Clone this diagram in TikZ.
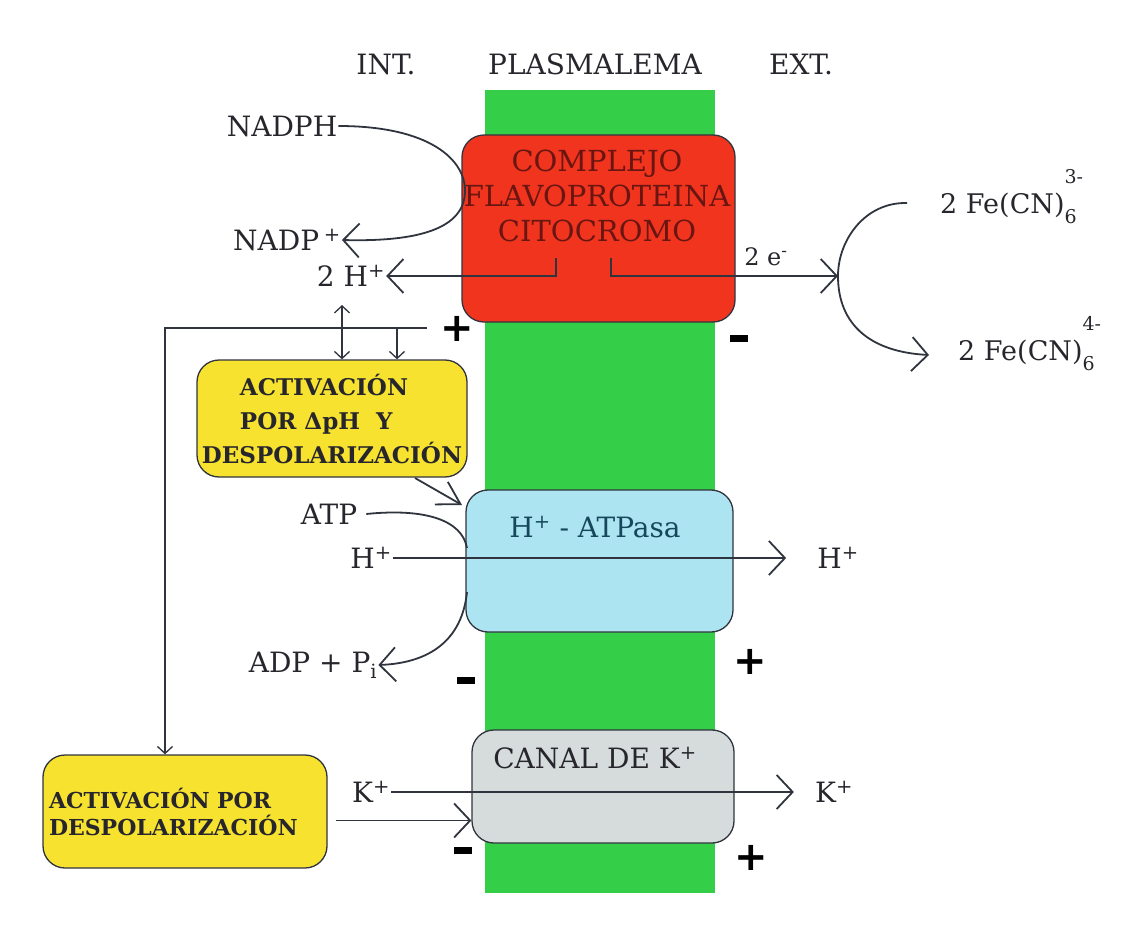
\documentclass[tikz,border=0pt]{standalone}
\usepackage{fontspec}
\setmainfont{DejaVu Serif}
\newfontfamily\signfont{DejaVu Sans}
\usetikzlibrary{arrows.meta,calc}

\definecolor{memgreen}{RGB}{52,206,72}
\definecolor{redbox}{RGB}{240,52,30}
\definecolor{redink}{RGB}{105,22,18}
\definecolor{bluebox}{RGB}{172,228,242}
\definecolor{blueink}{RGB}{22,72,92}
\definecolor{greybox}{RGB}{214,219,219}
\definecolor{yelbox}{RGB}{248,226,48}
\definecolor{inkc}{RGB}{38,38,44}
\definecolor{linec}{RGB}{48,52,62}

% charge of a complex ion: superscript over subscript
\newcommand{\ionic}[2]{\rlap{\raisebox{30pt}{\fontsize{19}{19}\selectfont #1}}\raisebox{-10pt}{\fontsize{19}{19}\selectfont #2}}

\begin{document}
\begin{tikzpicture}[x=1pt, y=-1pt,
    >={Straight Barb[length=16pt,width=34pt]},
    smalltip/.tip={Straight Barb[length=7pt,width=15pt]},
    slimtip/.tip={Straight Barb[length=22pt,width=26pt]},
    lbl/.style={font=\fontsize{28}{32}\selectfont, inner sep=1pt, text=inkc},
    head/.style={font=\fontsize{28}{32}\selectfont, inner sep=1pt, text=inkc},
    box/.style={draw=linec, line width=1.3pt, rounded corners=22pt, inner sep=4pt},
    actbox/.style={box, fill=yelbox, text=inkc},
    conn/.style={draw=linec, line width=1.8pt},
    thinconn/.style={draw=linec, line width=1.3pt},
    plussign/.style={font=\signfont\bfseries\fontsize{40}{40}\selectfont, inner sep=0pt, text=black},
    minussign/.style={fill=black, minimum width=18pt, minimum height=7pt, inner sep=0pt}]
    \useasboundingbox (0,0) rectangle (1130,931);

    % headings
    \node[head] (int) at (386,64) {INT.};
    \node[head] (plasma) at (595,64) {PLASMALEMA};
    \node[head] (ext) at (801,64) {EXT.};

    % membrane
    \fill[memgreen] (485,90) rectangle (715,893);

    % proteins
    \node[box, fill=redbox, minimum width=273pt, minimum height=187pt] (cplx) at (598.5,228.5) {};
    \node[font=\fontsize{29}{35}\selectfont, text=redink, align=center, inner sep=0pt] (cplxtxt) at (597,196) {COMPLEJO\\FLAVOPROTEINA\\CITOCROMO};
    \node[box, fill=bluebox, minimum width=267pt, minimum height=142pt] (atpase) at (599.5,561) {};
    \node[font=\fontsize{28}{32}\selectfont, text=blueink, inner sep=0pt] (atpasetxt) at (595,527) {H\textsuperscript{+} - ATPasa};
    \node[box, fill=greybox, minimum width=262pt, minimum height=113pt] (kchan) at (603,786.5) {};
    \node[font=\fontsize{28}{32}\selectfont, text=inkc, inner sep=0pt] (kchantxt) at (595,758) {CANAL DE K\textsuperscript{+}};

    % activation boxes
    \node[actbox, minimum width=270pt, minimum height=117pt, align=left, font=\fontsize{23}{34}\bfseries] (yel1) at (332,418.5)
        {\hspace*{38pt}ACTIVACIÓN\\\hspace*{38pt}POR ΔpH~~Y\\DESPOLARIZACIÓN};
    \node[actbox, minimum width=284pt, minimum height=113pt, text width=272pt, align=left, font=\fontsize{22}{27}\bfseries] (yel2) at (185,811.5)
        {ACTIVACIÓN POR\\DESPOLARIZACIÓN};

    % labels
    \node[lbl] (nadph) at (282,126) {NADPH};
    \node[lbl] (nadp) at (287,240) {NADP\,\textsuperscript{+}};
    \node[lbl] (twoh) at (351,276) {2 H\textsuperscript{+}};
    \node[lbl, font=\fontsize{24}{28}\selectfont] (elec) at (766,257) {2 e\textsuperscript{-}};
    \node[lbl, font=\fontsize{27}{30}\selectfont, anchor=base west] (fe3) at (939,213) {2 Fe(CN)\ionic{3-}{6}};
    \node[lbl, font=\fontsize{27}{30}\selectfont, anchor=base west] (fe4) at (957,360) {2 Fe(CN)\ionic{4-}{6}};
    \node[lbl] (atp) at (329,514) {ATP};
    \node[lbl] (hin) at (371,558) {H\textsuperscript{+}};
    \node[lbl] (hext) at (838,558) {H\textsuperscript{+}};
    \node[lbl] (adp) at (313,665) {ADP + P\textsubscript{i}};
    \node[lbl] (kin) at (371,792) {K\textsuperscript{+}};
    \node[lbl] (kext) at (834,792) {K\textsuperscript{+}};

    % charges
    \node[plussign] (p1) at (457,329) {+};
    \node[minussign] (m1) at (739,338) {};
    \node[minussign] (m2) at (466,680) {};
    \node[plussign] (p2) at (750,662) {+};
    \node[minussign] (m3) at (463,850) {};
    \node[plussign] (p3) at (751,858) {+};

    % redox chain
    \coordinate (hsrc) at (556,258);
    \coordinate (esrc) at (611,258);
    \coordinate (ejoin) at (838,276);
    \draw[conn, ->] (nadph.east) .. controls (430,126) and (466,160) .. (465,192) .. controls (464,228) and (420,242) .. (nadp.east);
    \draw[conn, ->] (hsrc) |- (twoh.east);
    \draw[conn, ->] (esrc) |- (ejoin);
    \draw[conn, ->] ([shift={(-32,-10)}]fe3.base west) .. controls (865,202) and (838,240) .. (ejoin)
        .. controls (838,326) and (872,352) .. ([shift={(-28,-5)}]fe4.base west);

    % feedback from the proton gradient
    \coordinate (fbR) at (427,328);
    \coordinate (fbL) at (165,328);
    \coordinate (up1) at (342,305);
    \coordinate (dn2) at (397,328);
    \draw[thinconn, -smalltip] (fbR) -- (fbL) -- (fbL |- yel2.north);
    \draw[thinconn, smalltip-smalltip] (up1) -- (up1 |- yel1.north);
    \draw[thinconn, -smalltip] (dn2) -- (dn2 |- yel1.north);

    % ATPase
    \coordinate (actS) at (415,478);
    \coordinate (actE) at (462,505);
    \draw[conn, -slimtip] (actS) -- (actE);
    \draw[conn] ([xshift=8pt]atp.east) .. controls (425,508) and (462,520) .. (467,548);
    \draw[conn, ->] (467,592) .. controls (462,640) and (430,663) .. (adp.east);
    \draw[conn, ->] (hin.east) -- ([xshift=-30pt]hext.west);

    % K+ channel
    \draw[conn, ->] ([shift={(8,9)}]yel2.east) -- ([yshift=-34pt]kchan.west);
    \draw[conn, ->] (kin.east) -- ([xshift=-20pt]kext.west);
\end{tikzpicture}
\end{document}
